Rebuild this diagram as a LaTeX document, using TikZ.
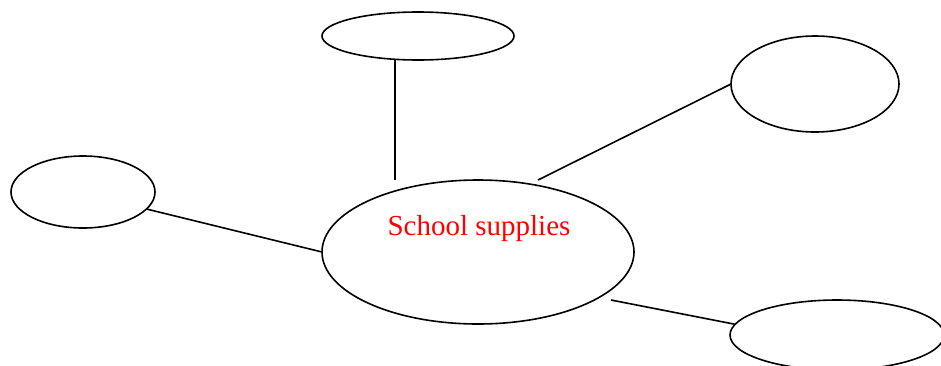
\documentclass[tikz,border=0pt]{standalone}
\usepackage{fontspec}
\setmainfont{Liberation Serif}
\usetikzlibrary{shapes.geometric}
\tikzset{
  bubble/.style={draw=black, ellipse, line width=1.6pt, inner sep=0pt, outer sep=0pt},
  link/.style={draw=black, line width=1.6pt},
}
\begin{document}
\begin{tikzpicture}[x=1pt,y=-1pt]
\useasboundingbox (0,0) rectangle (941,365);
\node[bubble, minimum width=312pt, minimum height=144pt] (ctr) at (478,252) {};
\node[text=red, font=\fontsize{29}{32}\selectfont, inner sep=0pt, anchor=base] (lbl) at (479,235) {School supplies};
\node[bubble, minimum width=192pt, minimum height=48pt] (top) at (418,36) {};
\node[bubble, minimum width=168pt, minimum height=96pt] (rt) at (815,84) {};
\node[bubble, minimum width=144pt, minimum height=72pt] (lf) at (83,192) {};
\node[bubble, minimum width=214pt, minimum height=70pt] (bt) at (837,335) {};
\draw[link] ([xshift=-23pt]top.south) -- ([xshift=-83pt]ctr.north);
\draw[link] ([xshift=60pt]ctr.north) -- (rt.west);
\draw[link] (lf.-15) -- (ctr.west);
\draw[link] ([xshift=133pt,yshift=-48pt]ctr.center) -- (bt.174);
\end{tikzpicture}
\end{document}
